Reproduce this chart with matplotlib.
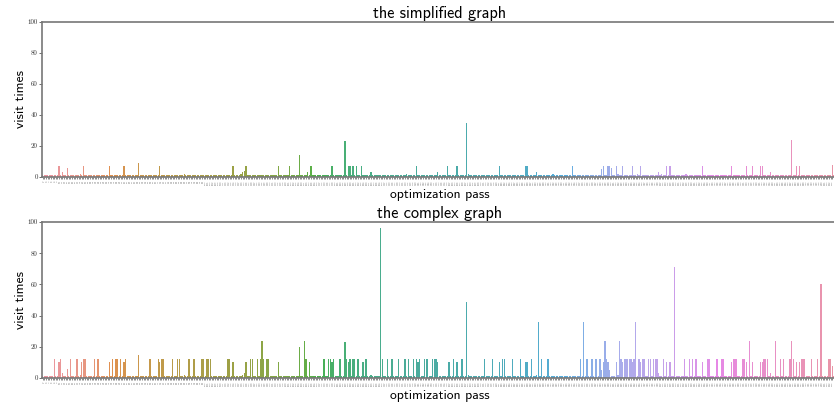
import matplotlib
matplotlib.use("Agg")
import matplotlib.pyplot as plt
import seaborn as sns

# pass ids on the x axis (the real names are unreadable at this size)
passes = [str(i) for i in range(490)]

# visit times per pass, simplified graph (rows of 20 bars)
simplified_visits = [
    1, 1, 1, 1, 1, 1, 1, 1, 1, 1, 7, 1, 3, 1, 1, 6, 1, 1, 1, 1,
    1, 1, 1, 2, 1, 7, 1, 1, 1, 1, 1, 1, 1, 1, 1, 1, 1, 1, 1, 1,
    1, 7, 1, 1, 1, 1, 1, 1, 1, 1, 7, 1, 1, 1, 1, 1, 1, 1, 1, 9,
    1, 1, 1, 1, 1, 1, 1, 1, 1, 1, 1, 1, 7, 1, 1, 1, 1, 1, 1, 1,
    1, 1, 1, 1, 1, 1, 1, 2, 1, 1, 1, 1, 1, 1, 1, 1, 1, 1, 1, 1,
    1, 1, 1, 1, 1, 1, 1, 1, 1, 1, 1, 1, 1, 1, 1, 1, 1, 7, 1, 1,
    1, 1, 2, 3, 4, 7, 1, 1, 1, 1, 1, 1, 1, 1, 1, 1, 1, 1, 1, 1,
    1, 1, 1, 1, 1, 7, 1, 1, 1, 1, 1, 1, 7, 1, 1, 1, 1, 1, 14, 1,
    1, 1, 1, 3, 1, 7, 1, 1, 1, 1, 1, 1, 1, 1, 1, 1, 1, 1, 7, 1,
    1, 1, 1, 1, 1, 1, 23, 1, 7, 7, 1, 7, 1, 7, 1, 1, 7, 1, 1, 1,
    1, 1, 3, 1, 1, 1, 1, 1, 1, 1, 1, 1, 1, 1, 1, 1, 1, 1, 1, 1,
    1, 1, 1, 1, 2, 1, 1, 1, 1, 1, 7, 1, 1, 1, 1, 1, 1, 1, 1, 1,
    1, 1, 1, 3, 1, 1, 1, 1, 1, 7, 1, 1, 1, 1, 1, 7, 1, 1, 1, 1,
    1, 35, 2, 1, 1, 1, 1, 1, 1, 1, 1, 1, 1, 1, 1, 1, 1, 1, 1, 1,
    1, 7, 1, 1, 1, 1, 1, 1, 1, 1, 1, 1, 1, 1, 1, 1, 1, 7, 7, 1,
    1, 1, 1, 1, 3, 1, 1, 1, 1, 1, 1, 1, 1, 1, 2, 1, 1, 1, 1, 1,
    1, 1, 1, 1, 1, 1, 7, 1, 1, 1, 1, 1, 1, 1, 1, 1, 1, 1, 1, 1,
    1, 1, 1, 1, 5, 7, 1, 1, 7, 7, 6, 1, 1, 7, 2, 1, 1, 7, 1, 1,
    1, 1, 1, 7, 1, 1, 2, 1, 7, 1, 1, 1, 1, 1, 1, 1, 1, 1, 1, 3,
    1, 2, 1, 1, 7, 1, 7, 1, 1, 1, 1, 1, 1, 1, 1, 1, 2, 1, 1, 1,
    1, 1, 1, 1, 1, 1, 7, 1, 1, 1, 1, 1, 1, 1, 1, 1, 1, 1, 1, 1,
    1, 1, 1, 1, 7, 1, 1, 1, 1, 1, 1, 1, 1, 7, 1, 1, 1, 7, 1, 1,
    1, 1, 7, 7, 1, 1, 1, 1, 3, 1, 1, 1, 1, 1, 1, 1, 1, 1, 1, 1,
    1, 24, 1, 1, 7, 1, 7, 1, 1, 1, 1, 1, 1, 1, 1, 1, 1, 1, 1, 1,
    1, 1, 1, 1, 1, 1, 8, 1, 1, 1,
]

# visit times per pass, complex graph
complex_visits = [
    1, 1, 1, 1, 1, 1, 1, 12, 1, 1, 10, 12, 3, 1, 1, 6, 1, 12, 1, 1,
    1, 12, 1, 2, 10, 12, 12, 1, 1, 1, 1, 1, 12, 1, 12, 1, 1, 1, 1, 1,
    1, 10, 1, 12, 1, 12, 12, 1, 12, 1, 10, 12, 1, 1, 1, 1, 1, 1, 1, 15,
    1, 1, 1, 1, 1, 1, 12, 1, 1, 1, 1, 12, 10, 12, 12, 1, 1, 1, 1, 1,
    12, 1, 1, 12, 12, 1, 1, 2, 1, 1, 12, 1, 1, 12, 1, 1, 1, 1, 12, 12,
    1, 12, 12, 12, 1, 1, 1, 1, 1, 1, 1, 1, 1, 1, 12, 12, 1, 10, 1, 1,
    1, 1, 1, 2, 3, 10, 1, 1, 12, 12, 1, 1, 12, 1, 12, 24, 12, 1, 12, 12,
    1, 1, 1, 1, 1, 10, 1, 1, 1, 1, 1, 1, 1, 1, 1, 1, 1, 1, 20, 1,
    1, 24, 12, 1, 10, 1, 1, 1, 1, 1, 1, 1, 1, 12, 1, 1, 12, 12, 10, 12,
    1, 1, 1, 12, 1, 1, 23, 12, 10, 12, 1, 12, 12, 1, 12, 1, 1, 10, 1, 12,
    1, 1, 2, 1, 1, 1, 1, 1, 96, 12, 1, 1, 12, 1, 1, 12, 1, 1, 1, 12,
    1, 1, 1, 12, 1, 12, 1, 1, 12, 1, 12, 10, 12, 1, 1, 12, 12, 12, 1, 1,
    12, 12, 12, 10, 1, 1, 1, 1, 1, 1, 10, 1, 1, 12, 1, 10, 1, 1, 12, 1,
    1, 49, 2, 1, 1, 1, 1, 1, 1, 1, 1, 1, 12, 1, 1, 1, 1, 12, 1, 1,
    1, 10, 1, 12, 12, 1, 1, 1, 1, 12, 1, 1, 1, 1, 12, 1, 1, 10, 10, 1,
    1, 12, 1, 1, 2, 36, 1, 12, 1, 1, 1, 12, 1, 1, 1, 1, 1, 1, 1, 1,
    1, 1, 1, 1, 1, 1, 1, 1, 1, 1, 1, 12, 1, 36, 1, 12, 1, 1, 12, 1,
    12, 12, 1, 12, 5, 10, 24, 12, 10, 5, 1, 1, 1, 10, 2, 24, 12, 10, 12, 12,
    12, 12, 12, 10, 12, 36, 1, 12, 10, 12, 12, 1, 1, 12, 12, 1, 12, 12, 12, 3,
    1, 1, 12, 1, 10, 1, 10, 1, 1, 71, 1, 1, 1, 1, 1, 12, 1, 1, 12, 1,
    12, 1, 12, 1, 1, 1, 10, 1, 1, 12, 12, 1, 1, 1, 1, 12, 1, 1, 12, 12,
    1, 1, 1, 1, 10, 12, 12, 12, 1, 1, 1, 12, 12, 10, 1, 24, 1, 10, 1, 1,
    1, 1, 10, 10, 12, 12, 12, 1, 3, 1, 1, 24, 1, 1, 12, 1, 12, 1, 1, 1,
    12, 24, 12, 1, 10, 1, 10, 12, 12, 12, 1, 1, 1, 12, 1, 1, 1, 12, 1, 60,
    1, 1, 1, 1, 12, 12, 8, 1, 1, 1,
]

titles = ["the simplified graph", "the complex graph"]
y_ticks = [0, 20, 40, 60, 80, 100]

# seaborn's old barplot look: husl colours, desaturated
palette = [sns.desaturate(c, 0.75) for c in sns.husl_palette(len(passes), l=0.7)]

fig = plt.figure(figsize=(8.34, 4.04), dpi=100)
# right edge of the axes runs off the canvas, like the reference crop
ax_top = fig.add_axes([0.0504, 0.5619, 0.9544, 0.3837])
ax_bot = fig.add_axes([0.0504, 0.0644, 0.9544, 0.3861])

for ax, values, title in zip([ax_top, ax_bot], [simplified_visits, complex_visits], titles):
    xs = range(len(passes))
    ax.bar(xs, values, width=0.8, color=palette, linewidth=0)
    ax.set_xlim(-0.5, len(passes) - 0.5)
    ax.set_ylim(0, 100)
    ax.set_yticks(y_ticks)
    ax.set_yticklabels([str(t) for t in y_ticks], family="cmr10", fontsize=5, color="#333333")
    ax.set_xticks(list(xs))
    ax.set_xticklabels(passes, rotation=90, fontsize=1.7, color="#888888")
    # labels that would sit past the canvas edge are not drawn
    for lab in ax.get_xticklabels()[-3:]:
        lab.set_visible(False)
    ax.tick_params(axis="x", length=1.5, width=0.4, pad=0.8, color="#333333")
    ax.tick_params(axis="y", length=2, width=0.6, pad=1, color="#555555")
    for side in ["left", "top", "right", "bottom"]:
        ax.spines[side].set_color("#777777")
        ax.spines[side].set_linewidth(1.2)
    ax.set_title(title, family="cmss10", fontsize=11.7, pad=3)
    ax.set_ylabel("visit times", family="cmss10", fontsize=9.8, labelpad=0.5)
    ax.set_xlabel("optimization pass", family="cmss10", fontsize=9.8, labelpad=3)

fig.savefig("out.png", dpi=100)
